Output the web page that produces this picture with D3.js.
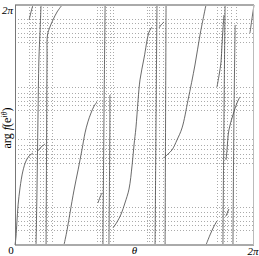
<!DOCTYPE html>
<html>
<head>
<meta charset="utf-8">
<script src="https://d3js.org/d3.v7.min.js"></script>
<style>
  body { margin: 0; background: #fff; }
  text { font-family: "Liberation Serif", "DejaVu Serif", serif; }
</style>
</head>
<body>
<script>
  // all values in turns (fraction of 2*pi): [theta, arg f]
  var argLevels = [0.942, 0.925, 0.904, 0.883, 0.867, 0.846,
                   0.658, 0.633, 0.617, 0.600, 0.583, 0.563,
                   0.442, 0.417, 0.400, 0.379, 0.363, 0.342,
                   0.158, 0.138, 0.121, 0.100, 0.083, 0.063];
  var thetaLevels = [0.059, 0.071, 0.084, 0.105, 0.117, 0.134, 0.155,
                     0.343, 0.356, 0.364, 0.381, 0.397, 0.410,
                     0.552, 0.561, 0.573, 0.586, 0.603, 0.619,
                     0.845, 0.862, 0.874, 0.887, 0.904, 0.925];

  var branches = [
    [[0, 0], [0.004, 0.033], [0.008, 0.096], [0.013, 0.167], [0.021, 0.238], [0.033, 0.308], [0.046, 0.350], [0.059, 0.371], [0.075, 0.383]],
    [[0.088, 0], [0.092, 0.229], [0.096, 0.521], [0.100, 0.771], [0.105, 0.896], [0.109, 1.0]],
    [[0.096, 0.392], [0.109, 0.408], [0.126, 0.421]],
    [[0.130, 0], [0.132, 0.396], [0.134, 0.771], [0.136, 0.875], [0.146, 0.908], [0.159, 0.938], [0.176, 0.971], [0.197, 1.0]],
    [[0.059, 0.938], [0.063, 0.954], [0.067, 0.971], [0.075, 1.0]],
    [[0.205, 0], [0.218, 0.063], [0.230, 0.133], [0.247, 0.229], [0.264, 0.313], [0.280, 0.396], [0.293, 0.467], [0.305, 0.513], [0.318, 0.550], [0.331, 0.579], [0.343, 0.596]],
    [[0.347, 0.175], [0.356, 0.200], [0.364, 0.217]],
    [[0.368, 0], [0.372, 0.5], [0.377, 1.0]],
    [[0.393, 0], [0.397, 0.521], [0.397, 0.625]],
    [[0.410, 0.071], [0.427, 0.096], [0.444, 0.129], [0.460, 0.175], [0.477, 0.233], [0.490, 0.333], [0.498, 0.417], [0.506, 0.488], [0.515, 0.604], [0.523, 0.688], [0.540, 0.779], [0.561, 0.888], [0.573, 0.908]],
    [[0.603, 0.904], [0.611, 0.917], [0.623, 0.929]],
    [[0.586, 0], [0.590, 0.5], [0.594, 1.0]],
    [[0.628, 0], [0.630, 0.521], [0.632, 1.0]],
    [[0.623, 0.363], [0.640, 0.379], [0.657, 0.396], [0.678, 0.438], [0.699, 0.488], [0.724, 0.604], [0.753, 0.750], [0.774, 0.875], [0.799, 1.0]],
    [[0.799, 0], [0.816, 0.042], [0.833, 0.079], [0.845, 0.100]],
    [[0.883, 0.121], [0.895, 0.150]],
    [[0.870, 0], [0.874, 0.5], [0.879, 1.0]],
    [[0.912, 0], [0.916, 0.521], [0.921, 0.917]],
    [[0.845, 0.658], [0.854, 0.708], [0.862, 0.763], [0.866, 0.833], [0.870, 0.896], [0.874, 0.958]],
    [[0.883, 0.354], [0.887, 0.396], [0.895, 0.479], [0.912, 0.542], [0.929, 0.592], [0.941, 0.617]],
    [[0.983, 0.883], [0.992, 0.946], [1.0, 1.0]]
  ];

  var width = 259, height = 256;
  var margin = { top: 5, right: 5, bottom: 11, left: 15 };

  var svg = d3.select("body").append("svg")
    .attr("width", width)
    .attr("height", height);

  var x = d3.scaleLinear().domain([0, 1]).range([margin.left, width - margin.right]);
  var y = d3.scaleLinear().domain([0, 1]).range([height - margin.bottom, margin.top]);

  // dotted guide lines
  svg.append("g").selectAll("line")
    .data(argLevels)
    .enter().append("line")
    .attr("x1", x(0)).attr("x2", x(1))
    .attr("y1", function (d) { return Math.round(y(d)) + 0.5; })
    .attr("y2", function (d) { return Math.round(y(d)) + 0.5; })
    .attr("stroke", "#aaa")
    .attr("stroke-dasharray", "1,2");

  svg.append("g").selectAll("line")
    .data(thetaLevels)
    .enter().append("line")
    .attr("y1", y(0)).attr("y2", y(1))
    .attr("x1", function (d) { return Math.round(x(d)) + 0.5; })
    .attr("x2", function (d) { return Math.round(x(d)) + 0.5; })
    .attr("stroke", "#aaa")
    .attr("stroke-dasharray", "1,2");

  // curves
  var line = d3.line()
    .x(function (d) { return x(d[0]); })
    .y(function (d) { return y(d[1]); })
    .curve(d3.curveCatmullRom);

  svg.append("g").selectAll("path")
    .data(branches)
    .enter().append("path")
    .attr("d", line)
    .attr("fill", "none")
    .attr("stroke", "#444")
    .attr("stroke-width", 0.8);

  // frame
  svg.append("line").attr("x1", x(0)).attr("x2", x(1)).attr("y1", y(1)).attr("y2", y(1))
    .attr("stroke", "#aaa").attr("stroke-width", 2);
  svg.append("line").attr("x1", x(0)).attr("x2", x(1)).attr("y1", y(0)).attr("y2", y(0))
    .attr("stroke", "#aaa").attr("stroke-width", 2);
  svg.append("line").attr("x1", x(0) + 0.5).attr("x2", x(0) + 0.5).attr("y1", y(0)).attr("y2", y(1))
    .attr("stroke", "#777").attr("stroke-width", 1);
  svg.append("line").attr("x1", x(1) - 0.5).attr("x2", x(1) - 0.5).attr("y1", y(0)).attr("y2", y(1))
    .attr("stroke", "#bbb").attr("stroke-width", 1);

  // axes (labels only)
  svg.append("g")
    .attr("transform", "translate(0," + y(0) + ")")
    .call(d3.axisBottom(x).tickValues([1]).tickFormat(function () { return "2π"; }).tickSize(0).tickPadding(2))
    .call(function (g) { g.select(".domain").remove(); })
    .selectAll("text")
    .attr("text-anchor", "end").attr("dx", "4px")
    .style("font-family", "Liberation Serif").style("font-size", "11px").style("font-style", "italic");

  svg.append("g")
    .attr("transform", "translate(" + x(0) + ",0)")
    .call(d3.axisLeft(y).tickValues([1]).tickFormat(function () { return "2π"; }).tickSize(0).tickPadding(2))
    .call(function (g) { g.select(".domain").remove(); })
    .selectAll("text")
    .attr("dy", "0.75em")
    .style("font-family", "Liberation Serif").style("font-size", "11px").style("font-style", "italic");

  svg.append("text").attr("x", 11).attr("y", 254).attr("text-anchor", "middle")
    .style("font-size", "11px").text("0");

  svg.append("text").attr("x", (x(0) + x(1)) / 2).attr("y", 254).attr("text-anchor", "middle")
    .style("font-size", "11px").style("font-style", "italic").text("θ");

  var yl = svg.append("text")
    .attr("transform", "translate(11," + 128 + ") rotate(-90)")
    .attr("text-anchor", "middle")
    .style("font-size", "12px");
  yl.append("tspan").text("arg ");
  yl.append("tspan").style("font-style", "italic").text("f");
  yl.append("tspan").text("(e");
  yl.append("tspan").attr("dy", -4).style("font-size", "8px").style("font-style", "italic").text("iθ");
  yl.append("tspan").attr("dy", 4).text(")");
</script>
</body>
</html>
